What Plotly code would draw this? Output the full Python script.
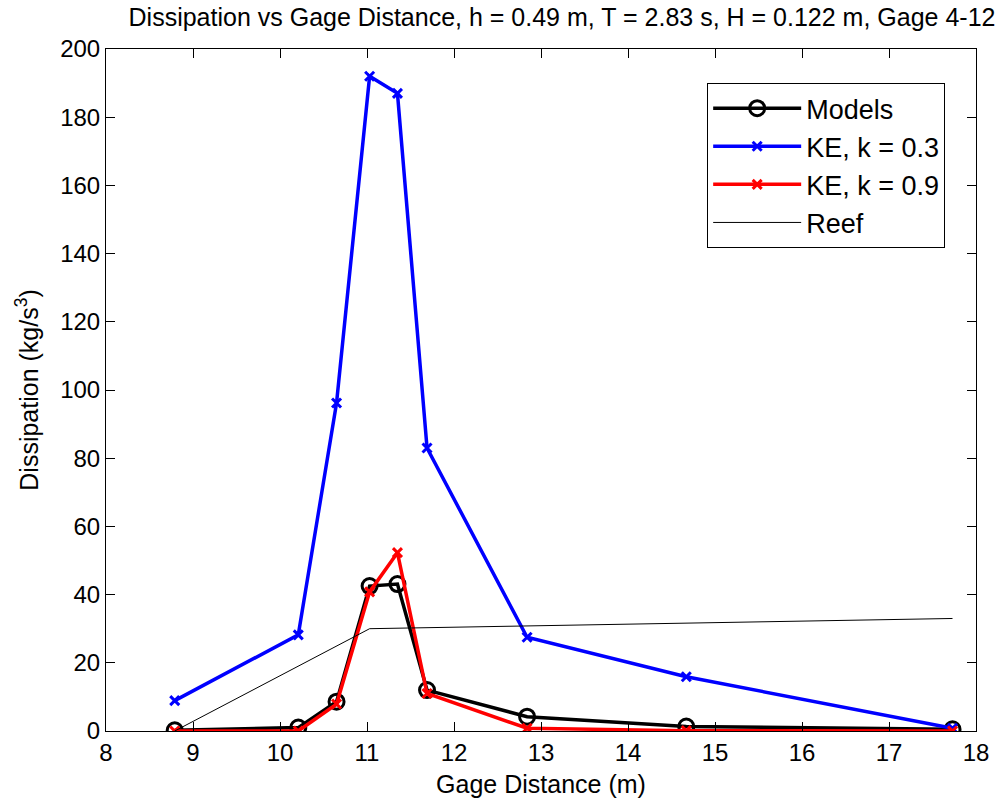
import plotly.graph_objects as go

gage_x = [8.79, 10.21, 10.65, 11.03, 11.35, 11.69, 12.84, 14.67, 17.73]
models = [0.2, 1.0, 8.6, 42.5, 43.1, 12.0, 4.2, 1.3, 0.5]
ke_k03 = [8.9, 28.2, 96.2, 192.0, 187.0, 83.0, 27.5, 15.9, 0.8]
ke_k09 = [0.0, 0.0, 7.9, 40.8, 52.3, 11.0, 0.8, 0.1, 0.0]
reef_x = [8.79, 11.03, 17.73]
reef_y = [0.0, 30.0, 33.0]

FONT = "Liberation Sans, Arial, Helvetica"

fig = go.Figure()
fig.add_trace(go.Scatter(x=gage_x, y=models, name="Models", mode="lines+markers",
                         line=dict(color="black", width=3.5),
                         marker=dict(symbol="circle-open", size=15, color="black",
                                     line=dict(width=3, color="black"))))
fig.add_trace(go.Scatter(x=gage_x, y=ke_k03, name="KE, k = 0.3", mode="lines+markers",
                         line=dict(color="#0000ff", width=3.5),
                         marker=dict(symbol="x-thin", size=9, color="#0000ff",
                                     line=dict(width=3, color="#0000ff"))))
fig.add_trace(go.Scatter(x=gage_x, y=ke_k09, name="KE, k = 0.9", mode="lines+markers",
                         line=dict(color="#ff0000", width=3.5),
                         marker=dict(symbol="x-thin", size=9, color="#ff0000",
                                     line=dict(width=3, color="#ff0000"))))
fig.add_trace(go.Scatter(x=reef_x, y=reef_y, name="Reef", mode="lines",
                         line=dict(color="black", width=1)))

axis_common = dict(showline=True, linecolor="black", linewidth=1, mirror="ticks",
                   ticks="inside", ticklen=9, tickcolor="black", showgrid=False,
                   zeroline=False, tickfont=dict(family=FONT, size=24, color="black"))

fig.update_layout(
    width=1000, height=804,
    margin=dict(l=106, r=24, t=49, b=73),
    paper_bgcolor="white", plot_bgcolor="white",
    title=dict(text="Dissipation vs Gage Distance, h = 0.49 m, T = 2.83 s, H = 0.122 m, Gage 4-12",
               x=0.562, xanchor="center", y=0.979, yanchor="middle",
               font=dict(family=FONT, size=25, color="black")),
    xaxis=dict(range=[8, 18], dtick=1, tick0=8,
               title=dict(text="Gage Distance (m)", standoff=10,
                          font=dict(family=FONT, size=25, color="black")),
               **axis_common),
    yaxis=dict(range=[0, 200], dtick=20, tick0=0,
               title=dict(text="Dissipation (kg/s<sup>3</sup>)", standoff=14,
                          font=dict(family=FONT, size=25, color="black")),
               **axis_common),
    legend=dict(x=0.691, y=0.95, xanchor="left", yanchor="top",
                bgcolor="white", bordercolor="black", borderwidth=1,
                font=dict(family=FONT, size=27, color="black"),
                itemwidth=88, tracegroupgap=0),
    showlegend=True,
)

fig.write_html("out.html")
